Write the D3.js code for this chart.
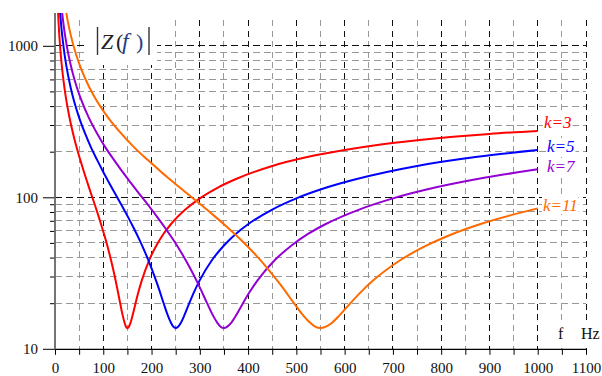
<!DOCTYPE html>
<html><head><meta charset="utf-8">
<script src="https://cdn.jsdelivr.net/npm/d3@7/dist/d3.min.js"></script>
<style>body{margin:0;background:#fff}svg{display:block}</style>
</head><body>
<svg id="c" width="602" height="376"></svg>
<script>
// ---- data ----
const fK3 = [6,7.5,9,12,15,19.5,24,30,37.5,45,52.5,60,67.5,75,82.5,90,97.5,105,112.5,120,127.5,135,139.5,144,147,150,153,156,160.5,165,172.5,180,195,210,225,240,270,300,337.5,375,450,525,600,675,750,825,900,1000];
const zK3 = [1747,1397,1163,869,693,529,426,336,263,212,176,147,124,105,89.3,75.4,63.2,52.4,42.7,34.0,26.4,20.0,17.0,14.9,14.0,13.7,14.0,14.7,16.5,18.9,23.5,28.4,38.4,48.1,57.5,66.4,83.0,98.4,116,132,161,185,205,223,238,251,262,274];
const fK5 = [10,12.5,15,20,25,32.5,40,50,62.5,75,87.5,100,112.5,125,137.5,150,162.5,175,187.5,200,212.5,225,232.5,240,245,250,255,260,267.5,275,287.5,300,325,350,375,400,450,500,562.5,625,750,875,1000];
const zK5 = [1747,1397,1163,869,693,529,426,336,263,212,176,147,124,105,89.3,75.4,63.2,52.4,42.7,34.0,26.4,20.0,17.0,14.9,14.0,13.7,14.0,14.7,16.5,18.9,23.5,28.4,38.4,48.1,57.5,66.4,83.0,98.4,116,132,161,185,205];
const fK7 = [14,17.5,21,28,35,45.5,56,70,87.5,105,122.5,140,157.5,175,192.5,210,227.5,245,262.5,280,297.5,315,325.5,336,343,350,357,364,374.5,385,402.5,420,455,490,525,560,630,700,787.5,875,1000];
const zK7 = [1747,1397,1163,869,693,529,426,336,263,212,176,147,124,105,89.3,75.4,63.2,52.4,42.7,34.0,26.4,20.0,17.0,14.9,14.0,13.7,14.0,14.7,16.5,18.9,23.5,28.4,38.4,48.1,57.5,66.4,83.0,98.4,116,132,153];
const fK11 = [22,27.5,33,44,55,71.5,88,110,137.5,165,192.5,220,247.5,275,302.5,330,357.5,385,412.5,440,467.5,495,511.5,528,539,550,561,572,588.5,605,632.5,660,715,770,825,880,1000];
const zK11 = [1747,1397,1163,869,693,529,426,336,263,212,176,147,124,105,89.3,75.4,63.2,52.4,42.7,34.0,26.4,20.0,17.0,14.9,14.0,13.7,14.0,14.7,16.5,18.9,23.5,28.4,38.4,48.1,57.5,66.4,84.5];
const seriesNames = ["k=3","k=5","k=7","k=11"];
const seriesColors = ["#ff0000","#0000ff","#9400d3","#ff6a00"];
const xMajorTicks = [0,100,200,300,400,500,600,700,800,900,1000,1100];
const xMinorTicks = [50,150,250,350,450,550,650,750,850,950,1050];
const yMajorTicks = [10,100,1000];
const yMinorTicks = [20,30,40,50,60,70,80,90,200,300,400,500,600,700,800,900];

// ---- scales ----
const svg = d3.select("#c");
const x = d3.scaleLinear().domain([0,1100]).range([55,586]);
const y = d3.scaleLog().domain([10,1000]).range([348.8,45.8]);
const yTop = 13, gridTop = 20, yBot = y(10);
const font = "Liberation Serif, DejaVu Serif, serif";

// ---- grid ----
const grid = svg.append("g");
xMinorTicks.concat(xMajorTicks.slice(1)).forEach(v=>{
  const major = v % 100 === 0;
  grid.append("line").attr("x1",x(v)).attr("x2",x(v)).attr("y1",gridTop).attr("y2",yBot)
    .attr("stroke", major?"#111":"#999").attr("stroke-width",1).attr("stroke-dasharray","6,4.5")
    .attr("shape-rendering","crispEdges");
});
yMinorTicks.concat(yMajorTicks.slice(1)).forEach(v=>{
  const major = yMajorTicks.includes(v);
  grid.append("line").attr("x1",x(0)).attr("x2",x(1100)).attr("y1",y(v)).attr("y2",y(v))
    .attr("stroke", major?"#111":"#999").attr("stroke-width",1).attr("stroke-dasharray","6.5,4.5")
    .attr("shape-rendering","crispEdges");
});

// white boxes behind labels
svg.append("rect").attr("x",85).attr("y",14).attr("width",72).attr("height",51).attr("fill","#fff");
svg.append("rect").attr("x",552).attr("y",321).attr("width",50).attr("height",27).attr("fill","#fff");

// ---- axes ----
const xAxis = d3.axisBottom(x).tickValues(xMajorTicks.concat(xMinorTicks))
  .tickFormat(d => d % 100 === 0 ? d : "").tickSize(6).tickSizeOuter(0);
const gx = svg.append("g").attr("transform",`translate(0,${yBot})`).call(xAxis);
gx.attr("font-family",font);
gx.select(".domain").attr("stroke","#000").attr("stroke-width",1.3);
gx.selectAll(".tick line").attr("stroke","#000");
gx.selectAll("text").attr("y",14).style("font-family",font).attr("font-size",15).attr("fill","#111");

const yAxis = d3.axisLeft(y).tickValues(yMajorTicks.concat(yMinorTicks))
  .tickFormat(d => yMajorTicks.includes(d) ? d : "").tickSize(5).tickSizeOuter(0);
const gy = svg.append("g").attr("transform",`translate(${x(0)},0)`).call(yAxis);
gy.attr("font-family",font);
gy.select(".domain").remove();
gy.selectAll(".tick line").attr("stroke","#000")
  .attr("x2", d => yMajorTicks.includes(d) ? -12 : -5);
gy.selectAll("text").attr("x",-17).style("font-family",font).attr("font-size",15).attr("fill","#111");
svg.append("line").attr("x1",x(0)).attr("x2",x(0)).attr("y1",yTop).attr("y2",yBot+0.5)
  .attr("stroke","#666").attr("stroke-width",1.8);

// ---- curves ----
svg.append("clipPath").attr("id","clip").append("rect")
  .attr("x",x(0)).attr("y",yTop).attr("width",560).attr("height",yBot-yTop);
const line = d3.line().x(d=>x(d[0])).y(d=>y(d[1])).curve(d3.curveMonotoneX);
const fs = [fK3,fK5,fK7,fK11], zs = [zK3,zK5,zK7,zK11];
const cg = svg.append("g").attr("clip-path","url(#clip)");
fs.forEach((f,i)=>{
  cg.append("path").datum(f.map((v,j)=>[v,zs[i][j]]))
    .attr("d",line).attr("fill","none").attr("stroke",seriesColors[i]).attr("stroke-width",2);
});

// ---- series labels ----
const labPos = [[544,128],[547,152],[547,172],[543,211]];
seriesNames.forEach((n,i)=>{
  const g = svg.append("g");
  const t = g.append("text").attr("x",labPos[i][0]).attr("y",labPos[i][1])
    .style("font-family",font).attr("font-style","italic").attr("font-size",17)
    .attr("fill",seriesColors[i]).text(n);
  const b = t.node().getBBox();
  g.insert("rect","text").attr("x",b.x-1).attr("y",b.y+1).attr("width",b.width+2).attr("height",b.height-2).attr("fill","#fff");
});

// ---- |Z(f)| title ----
svg.append("line").attr("x1",97.5).attr("x2",97.5).attr("y1",27).attr("y2",55).attr("stroke","#333").attr("stroke-width",1.4);
svg.append("line").attr("x1",149).attr("x2",149).attr("y1",27).attr("y2",55).attr("stroke","#333").attr("stroke-width",1.4);
const tAttrs = (sel)=>sel.style("font-family",font).attr("font-size",22).attr("y",48.5);
tAttrs(svg.append("text")).attr("x",101).attr("font-style","italic").attr("fill","#222").text("Z");
tAttrs(svg.append("text")).attr("x",116).attr("fill","#222").text("(");
tAttrs(svg.append("text")).attr("x",122).attr("font-style","italic").attr("font-size",24).attr("fill","#1f3f7f").text("f");
tAttrs(svg.append("text")).attr("x",136).attr("fill","#1f3f7f").text(")");

// ---- axis unit ----
svg.append("text").attr("x",558).attr("y",339).style("font-family",font).attr("font-size",16).attr("fill","#111").text("f");
svg.append("text").attr("x",581).attr("y",339).style("font-family",font).attr("font-size",16).attr("fill","#111").text("Hz");
</script>
</body></html>
